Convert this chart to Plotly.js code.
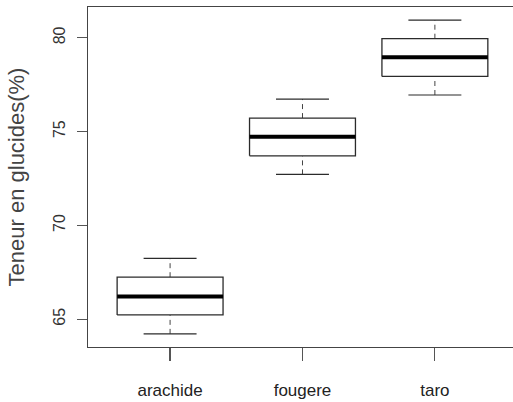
<!DOCTYPE html>
<html>
<head>
<meta charset="utf-8">
<script src="https://cdn.plot.ly/plotly-3.0.1.min.js"></script>
<style>html,body{margin:0;padding:0;background:#fff;}#chart{width:513px;height:402px;}</style>
</head>
<body>
<div id="chart"></div>
<script>
// Data
const categories = ['arachide', 'fougere', 'taro'];
const minVals    = [64.22, 72.72, 76.95];
const q1Vals     = [65.23, 73.71, 77.94];
const medianVals = [66.21, 74.72, 78.96];
const q3Vals     = [67.24, 75.72, 79.95];
const maxVals    = [68.24, 76.73, 80.94];
const yTickVals  = [65, 70, 75, 80];

const boxHalf = 0.4, stapleHalf = 0.2;
const positions = categories.map((c, i) => i + 1);

const boxX = [], boxY = [], medX = [], medY = [], whX = [], whY = [], stX = [], stY = [];
positions.forEach((p, i) => {
  boxX.push(p - boxHalf, p + boxHalf, p + boxHalf, p - boxHalf, p - boxHalf, null);
  boxY.push(q1Vals[i], q1Vals[i], q3Vals[i], q3Vals[i], q1Vals[i], null);
  medX.push(p - boxHalf, p + boxHalf, null);
  medY.push(medianVals[i], medianVals[i], null);
  whX.push(p, p, null, p, p, null);
  whY.push(q3Vals[i], maxVals[i], null, minVals[i], q1Vals[i], null);
  stX.push(p - stapleHalf, p + stapleHalf, null, p - stapleHalf, p + stapleHalf, null);
  stY.push(maxVals[i], maxVals[i], null, minVals[i], minVals[i], null);
});

const lineCol = '#2b2b2b';
const traces = [
  {x: whX, y: whY, mode: 'lines', line: {color: '#444', width: 1, dash: '5px,4px'}, hoverinfo: 'skip'},
  {x: stX, y: stY, mode: 'lines', line: {color: lineCol, width: 1.2}, hoverinfo: 'skip'},
  {x: boxX, y: boxY, mode: 'lines', fill: 'toself', fillcolor: '#ffffff', line: {color: lineCol, width: 1.3}, hoverinfo: 'skip'},
  {x: medX, y: medY, mode: 'lines', line: {color: '#000', width: 4}, hoverinfo: 'skip'}
];

const layout = {
  width: 513, height: 402,
  margin: {l: 88, r: 0, t: 7, b: 55, pad: 0},
  paper_bgcolor: '#fff', plot_bgcolor: '#fff',
  showlegend: false,
  font: {family: 'Liberation Sans, Arial, sans-serif', color: '#222'},
  xaxis: {
    range: [0.38, 3.59], tickvals: positions, ticktext: categories,
    showgrid: false, zeroline: false, showline: true, mirror: true,
    linecolor: '#444', linewidth: 1.3,
    ticks: 'outside', ticklen: 13, tickcolor: '#555', tickwidth: 1.2,
    ticklabelstandoff: 14,
    tickfont: {size: 17, color: '#222'}
  },
  yaxis: {
    range: [63.52, 81.64], tickvals: yTickVals,
    showgrid: false, zeroline: false, showline: true, mirror: false,
    linecolor: '#444', linewidth: 1.3,
    ticks: 'outside', ticklen: 10, tickcolor: '#555', tickwidth: 1.2,
    ticklabelstandoff: 5,
    tickangle: -90, tickfont: {size: 16, color: '#333'},
    title: {text: 'Teneur en glucides(%)', font: {size: 22, color: '#444'}, standoff: 20}
  }
};

Plotly.newPlot('chart', traces, layout, {displayModeBar: false, staticPlot: true});
</script>
</body>
</html>
